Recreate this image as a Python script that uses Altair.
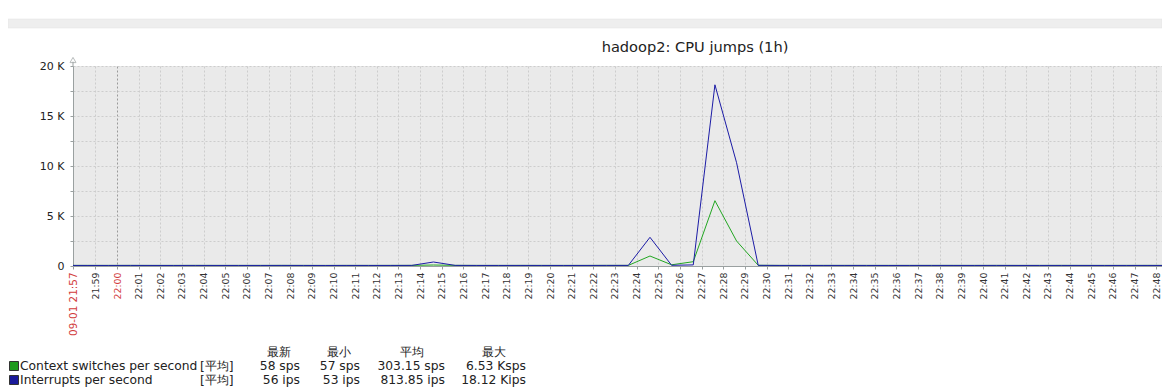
import altair as alt
import pandas as pd

# ---------------- data ----------------
minutes = [f"21:{m:02d}" for m in range(57, 60)] + [f"22:{m:02d}" for m in range(0, 50)]
sample_sec = "37"

ctx_switches = [
    58, 60, 59, 58, 57, 59, 60, 58, 59, 58,   # 21:57 - 22:06
    60, 58, 57, 59, 58, 60, 61, 100, 64, 59,  # 22:07 - 22:16
    58, 60, 59, 58, 59, 61, 60, 1000, 120, 430,  # 22:17 - 22:26
    6530, 2500, 70, 59, 58, 60, 59, 58, 60, 59,  # 22:27 - 22:36
    58, 60, 59, 58, 57, 59, 60, 58, 59, 58,   # 22:37 - 22:46
    60, 59, 58,                               # 22:47 - 22:49
]
interrupts = [
    57, 56, 55, 58, 56, 54, 57, 56, 55, 56,   # 21:57 - 22:06
    58, 56, 53, 57, 56, 55, 60, 400, 62, 56,  # 22:07 - 22:16
    55, 57, 56, 54, 56, 58, 60, 2870, 70, 110,  # 22:17 - 22:26
    18120, 10330, 65, 57, 56, 55, 57, 56, 54, 56,  # 22:27 - 22:36
    57, 55, 56, 58, 56, 55, 57, 56, 54, 56,   # 22:37 - 22:46
    57, 55, 56,                               # 22:47 - 22:49
]

series_names = ["Context switches per second", "Interrupts per second"]
series_colors = ["#22A622", "#1C1CA6"]
legend_fill = ["#1E9A1E", "#1A1A9A"]
legend_func = ["[平均]", "[平均]"]
legend_headers = ["最新", "最小", "平均", "最大"]
legend_last = ["58 sps", "56 ips"]
legend_min = ["57 sps", "53 ips"]
legend_avg = ["303.15 sps", "813.85 ips"]
legend_max = ["6.53 Ksps", "18.12 Kips"]

y_ticks = [0, 2500, 5000, 7500, 10000, 12500, 15000, 17500, 20000]
title_text = "hadoop2: CPU jumps (1h)"
date_prefix = "2024-09-01T"
start_time = "21:57:58"
end_time = "22:48:16"

# ---------------- frames ----------------
rows = []
for name, vals in zip(series_names, [ctx_switches, interrupts]):
    for m, v in zip(minutes, vals):
        rows.append({"time": f"{date_prefix}{m}:{sample_sec}", "series": name, "value": v})
df = pd.DataFrame(rows)

FONT = "DejaVu Sans"
W, H = 1089, 200
PAD_L, PAD_T = 65, 58
TOTAL_H = 381
AXIS_GREY = "#9AA0A0"

x_values = [alt.DateTime(year=2024, month=9, date=1, hours=21, minutes=57, seconds=58)]
for m in minutes[2:]:
    hh, mm = m.split(":")
    x_values.append(alt.DateTime(year=2024, month=9, date=1, hours=int(hh), minutes=int(mm)))

FIRST = "(hours(datum.value)==21 && minutes(datum.value)==57)"
x_enc = alt.X(
    "time:T",
    scale=alt.Scale(domain=[date_prefix + start_time, date_prefix + end_time]),
    axis=alt.Axis(
        values=x_values,
        tickCount=500,
        labelAngle=270,
        labelExpr=f"{FIRST} ? '09-01 21:57' : timeFormat(datum.value, '%H:%M')",
        labelColor={
            "condition": {
                "test": f"{FIRST} || (hours(datum.value)==22 && minutes(datum.value)==0)",
                "value": "#D23C3C",
            },
            "value": "#333333",
        },
        labelFontSize={"condition": {"test": FIRST, "value": 10.4}, "value": 9.4},
        gridColor={
            "condition": {"test": "hours(datum.value)==22 && minutes(datum.value)==0", "value": "#9A9A9A"},
            "value": "#CDCDCD",
        },
        gridDash=[2, 2],
        labelFont=FONT,
        labelPadding=3,
        labelOverlap=False,
        labelFlush=False,
        labelBound=False,
        tickSize=3,
        tickColor=AXIS_GREY,
        domainColor=AXIS_GREY,
        title=None,
    ),
)
y_enc = alt.Y(
    "value:Q",
    scale=alt.Scale(domain=[0, 20000], nice=False),
    axis=alt.Axis(
        values=y_ticks,
        tickCount=100,
        labelExpr="datum.value % 5000 == 0 ? (datum.value == 0 ? '0' : (datum.value/1000) + ' K') : ''",
        labelOverlap=False,
        gridDash=[2, 2],
        gridColor="#CDCDCD",
        labelFont=FONT,
        labelFontSize=11,
        labelColor="#222222",
        labelPadding=6,
        tickSize=3,
        tickColor=AXIS_GREY,
        domainColor=AXIS_GREY,
        title=None,
    ),
)

base = alt.Chart(df)
green_line = base.transform_filter(alt.datum.series == series_names[0]).mark_line(
    color=series_colors[0], strokeWidth=1, clip=True, interpolate="linear"
).encode(x=x_enc, y=y_enc)
blue_line = base.transform_filter(alt.datum.series == series_names[1]).mark_line(
    color=series_colors[1], strokeWidth=1, clip=True, interpolate="linear"
).encode(x="time:T", y="value:Q")

one = pd.DataFrame({"a": [0]})

# axis extension and arrow at top of y axis
axis_ext = alt.Chart(one).mark_rule(color=AXIS_GREY, strokeWidth=1).encode(
    x=alt.value(0), y=alt.value(-5), y2=alt.value(0)
)
arrow = alt.Chart(one).mark_point(
    shape="triangle-up", filled=True, fill="white", stroke=AXIS_GREY, strokeWidth=1, size=36
).encode(x=alt.value(0), y=alt.value(-6))

# grey band near the top of the page
band = alt.Chart(one).mark_rect(color="#EEEEEE", stroke="#E2E2E2", strokeWidth=0.5).encode(
    x=alt.value(-PAD_L), x2=alt.value(W), y=alt.value(-47), y2=alt.value(-38)
)

# title as text
title = alt.Chart(pd.DataFrame({"t": [title_text]})).mark_text(
    font=FONT, fontSize=14.6, color="#222222", align="center", baseline="middle"
).encode(x=alt.value(622), y=alt.value(-18), text="t:N")

# legend
leg_df = pd.DataFrame({
    "name": series_names, "fill": legend_fill, "func": legend_func,
    "last": legend_last, "min": legend_min, "avg": legend_avg, "max": legend_max,
})
hdr_df = pd.DataFrame({"h": legend_headers})
LFS = 12.3

legend_layers = []
header_x = [206, 266, 339, 421]
for i, h in enumerate(legend_headers):
    legend_layers.append(
        alt.Chart(hdr_df).transform_filter(alt.datum.h == h).mark_text(
            font=FONT, fontSize=LFS, color="#222222", align="center", baseline="middle"
        ).encode(x=alt.value(header_x[i]), y=alt.value(286), text="h:N")
    )

row_y = [300, 314]
for i, name in enumerate(series_names):
    sub = alt.Chart(leg_df).transform_filter(alt.datum.name == name)
    legend_layers.append(
        sub.mark_square(size=81, stroke="#333333", strokeWidth=1, opacity=1).encode(
            x=alt.value(-59), y=alt.value(row_y[i]),
            fill=alt.Fill("fill:N", scale=None),
        )
    )
    legend_layers.append(
        sub.mark_text(font=FONT, fontSize=LFS, color="#222222", align="left", baseline="middle").encode(
            x=alt.value(-53), y=alt.value(row_y[i]), text="name:N")
    )
    legend_layers.append(
        sub.mark_text(font=FONT, fontSize=LFS, color="#222222", align="left", baseline="middle").encode(
            x=alt.value(127), y=alt.value(row_y[i]), text="func:N")
    )
    for col, xr in zip(["last", "min", "avg", "max"], [227, 287, 372, 453]):
        legend_layers.append(
            sub.mark_text(font=FONT, fontSize=LFS, color="#222222", align="right", baseline="middle").encode(
                x=alt.value(xr), y=alt.value(row_y[i]), text=f"{col}:N")
        )

chart = alt.layer(band, green_line, blue_line, axis_ext, arrow, title, *legend_layers).properties(
    width=W,
    height=H,
    autosize=alt.AutoSizeParams(type="none"),
    padding={"left": PAD_L, "top": PAD_T, "right": 0, "bottom": TOTAL_H - PAD_T - H},
    background="white",
).configure_view(fill="#EAEAEA", stroke=None)

chart.save("out.html", embed_options={"renderer": "svg", "actions": False})
